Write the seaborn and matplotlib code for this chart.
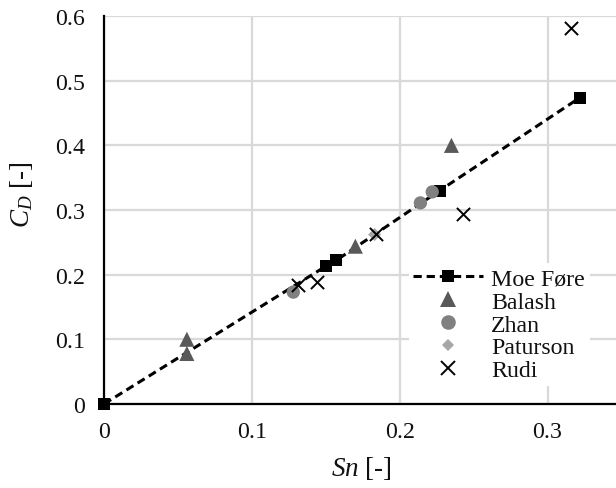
import matplotlib
matplotlib.use("Agg")
import matplotlib.pyplot as plt
import seaborn as sns
import pandas as pd
from matplotlib.lines import Line2D

# Drag coefficient versus solidity, several data sources
moe_sn = [0.0, 0.150, 0.157, 0.227, 0.322]
moe_cd = [0.0, 0.213, 0.222, 0.330, 0.474]

balash_sn = [0.056, 0.056, 0.170, 0.235]
balash_cd = [0.100, 0.078, 0.244, 0.400]

zhan_sn = [0.128, 0.214, 0.222]
zhan_cd = [0.173, 0.311, 0.328]

paturson_sn = [0.183]
paturson_cd = [0.262]

rudi_sn = [0.131, 0.144, 0.184, 0.243, 0.316]
rudi_cd = [0.184, 0.189, 0.263, 0.294, 0.581]

x_ticks = [0, 0.1, 0.2, 0.3]
x_tick_labels = ["0", "0.1", "0.2", "0.3"]
y_ticks = [0, 0.1, 0.2, 0.3, 0.4, 0.5, 0.6]
y_tick_labels = ["0", "0.1", "0.2", "0.3", "0.4", "0.5", "0.6"]

sns.set_theme(style="whitegrid")
plt.rcParams["font.family"] = ["Liberation Serif", "DejaVu Serif"]
plt.rcParams["mathtext.fontset"] = "custom"
plt.rcParams["mathtext.it"] = "Liberation Serif:italic"
plt.rcParams["mathtext.rm"] = "Liberation Serif"

FS = 17.2
FS_LABEL = 19.5
TXT = "#111111"
DASH = (0, (2.7, 1.6))
LW = 2.2

fig = plt.figure(figsize=(6.16, 4.89), dpi=100)
ax = fig.add_axes([0.169, 0.172, 0.835, 0.793])

moe = pd.DataFrame({"Sn": moe_sn, "CD": moe_cd})
balash = pd.DataFrame({"Sn": balash_sn, "CD": balash_cd})
zhan = pd.DataFrame({"Sn": zhan_sn, "CD": zhan_cd})
paturson = pd.DataFrame({"Sn": paturson_sn, "CD": paturson_cd})
rudi = pd.DataFrame({"Sn": rudi_sn, "CD": rudi_cd})

# series are stacked in legend order: Moe Føre at the bottom, Rudi on top
sns.lineplot(data=moe, x="Sn", y="CD", ax=ax, color="black", linewidth=LW,
             linestyle=DASH, marker="s", markersize=8.3,
             markeredgewidth=0, sort=False, zorder=3, clip_on=False)
sns.scatterplot(data=balash, x="Sn", y="CD", ax=ax, marker="^", s=118,
                color="#595959", edgecolor="none", zorder=4)
sns.scatterplot(data=zhan, x="Sn", y="CD", ax=ax, marker="o", s=92,
                color="#808080", edgecolor="none", zorder=5)
sns.scatterplot(data=paturson, x="Sn", y="CD", ax=ax, marker="D", s=44,
                color="#a6a6a6", edgecolor="none", zorder=6)
sns.scatterplot(data=rudi, x="Sn", y="CD", ax=ax, marker="x", s=90,
                color="black", linewidth=1.4, zorder=7)

ax.set_xlim(0, 0.348)
ax.set_ylim(0, 0.6)
ax.set_xticks(x_ticks)
ax.set_xticklabels(x_tick_labels)
ax.set_yticks(y_ticks)
ax.set_yticklabels(y_tick_labels)

ax.grid(True, color="#d9d9d9", linewidth=1.6)
ax.set_axisbelow(True)
for side in ["top", "right"]:
    ax.spines[side].set_visible(False)
for side in ["left", "bottom"]:
    ax.spines[side].set_color("black")
    ax.spines[side].set_linewidth(1.6)
    ax.spines[side].set_zorder(2)

ax.tick_params(axis="x", direction="in", length=6, width=1.5, color="black",
               labelsize=FS, pad=12, labelcolor=TXT)
ax.tick_params(axis="y", direction="out", length=6, width=1.5, color="black",
               labelsize=FS, pad=8, labelcolor=TXT)

ax.set_xlabel(r"$Sn$ [-]", fontsize=FS_LABEL, labelpad=9, color=TXT)
ax.set_ylabel(r"$C_D$ [-]", fontsize=FS_LABEL, color=TXT)
ax.yaxis.set_label_coords(-0.135, 0.541)

handles = [
    Line2D([], [], color="black", linewidth=LW, linestyle=DASH,
           marker="s", markersize=8, markeredgewidth=0),
    Line2D([], [], color="#595959", linestyle="none", marker="^",
           markersize=11.5, markeredgewidth=0),
    Line2D([], [], color="#808080", linestyle="none", marker="o",
           markersize=10.5, markeredgewidth=0),
    Line2D([], [], color="#a6a6a6", linestyle="none", marker="D",
           markersize=6.6, markeredgewidth=0),
    Line2D([], [], color="black", linestyle="none", marker="x",
           markersize=9.5, markeredgewidth=1.4),
]
labels = ["Moe Føre", "Balash", "Zhan", "Paturson", "Rudi"]
leg = ax.legend(handles, labels, loc="lower right",
                bbox_to_anchor=(0.967, 0.015), fontsize=FS, frameon=True,
                handlelength=2.9, handletextpad=0.35, labelspacing=0.05,
                borderpad=0.2, facecolor="white", edgecolor="white",
                framealpha=1.0)
leg.get_frame().set_linewidth(0)
for t in leg.get_texts():
    t.set_color(TXT)

fig.savefig("out.png", dpi=100)
